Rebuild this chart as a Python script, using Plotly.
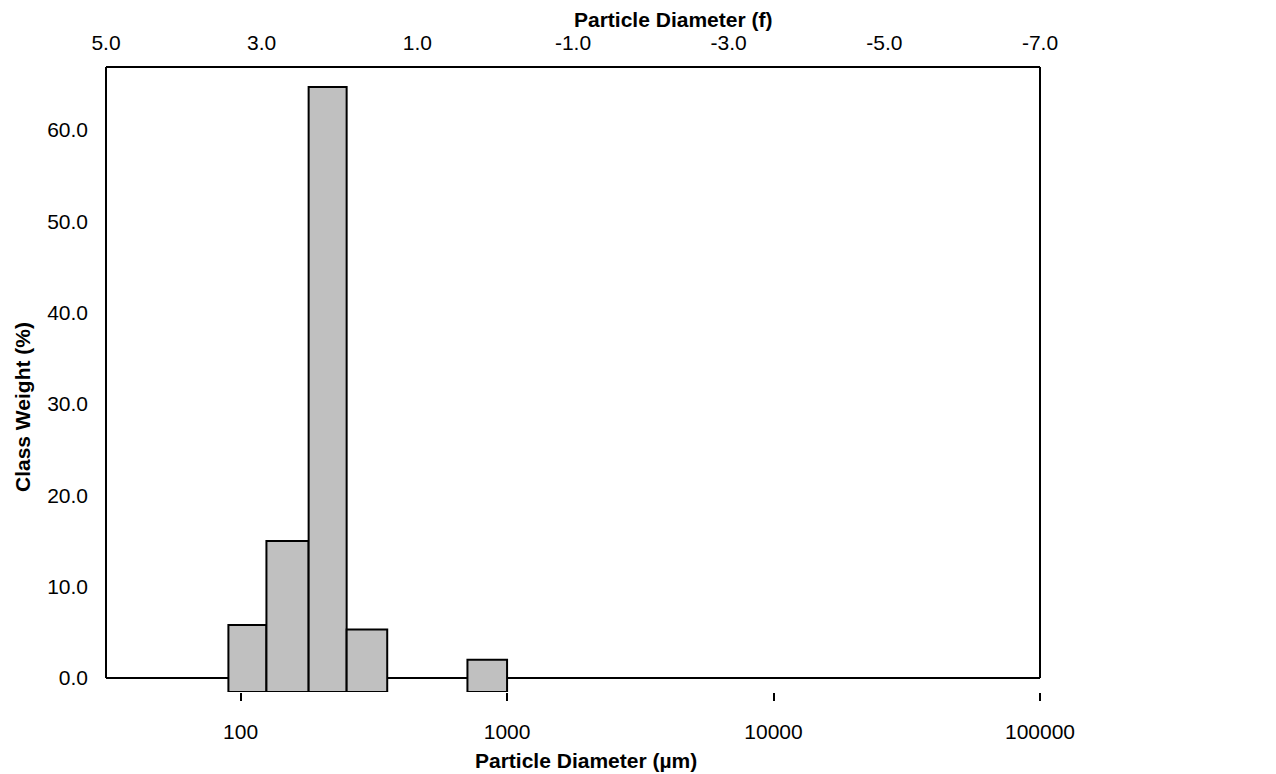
import plotly.graph_objects as go
import math

# Data: size classes (µm) and class weights (%)
bin_lower_um = [90, 125, 180, 250, 710]
bin_upper_um = [125, 180, 250, 355, 1000]
class_weight = [5.8, 15.0, 64.7, 5.3, 2.0]

bottom_ticks = [100, 1000, 10000, 100000]
bottom_ticktext = ["100", "1000", "10000", "100000"]
phi_ticks = [5, 3, 1, -1, -3, -5, -7]
phi_ticktext = ["5.0", "3.0", "1.0", "-1.0", "-3.0", "-5.0", "-7.0"]
y_ticks = [0, 10, 20, 30, 40, 50, 60]
y_ticktext = ["0.0", "10.0", "20.0", "30.0", "40.0", "50.0", "60.0"]

Y_MIN, Y_MAX = -1.53, 66.9
FONT = "Liberation Sans, Arial, sans-serif"

fig = go.Figure()
for lo, hi, h in zip(bin_lower_um, bin_upper_um, class_weight):
    fig.add_trace(go.Scatter(
        x=[lo, lo, hi, hi, lo], y=[Y_MIN, h, h, Y_MIN, Y_MIN],
        mode="lines", fill="toself", fillcolor="#c0c0c0",
        line=dict(color="black", width=2), hoverinfo="skip", showlegend=False,
        xaxis="x", yaxis="y"))

# invisible trace for top axis
fig.add_trace(go.Scatter(x=[5, -7], y=[None, None], xaxis="x2", yaxis="y",
                         mode="markers", showlegend=False, hoverinfo="skip"))

fig.update_layout(
    width=1276, height=774,
    margin=dict(l=106, r=236, t=67, b=82),
    paper_bgcolor="white", plot_bgcolor="white",
    font=dict(family=FONT, size=21, color="black"),
    xaxis=dict(type="log", range=[math.log10(31.25), 5],
               tickvals=bottom_ticks, ticktext=bottom_ticktext,
               ticks="outside", ticklen=8, tickwidth=2, tickcolor="black",
               showline=False, showgrid=False, zeroline=False,
               ticklabelstandoff=13),
    xaxis2=dict(overlaying="x", side="top", anchor="y", range=[5, -7],
                tickvals=phi_ticks, ticktext=phi_ticktext, ticks="",
                showline=False, showgrid=False, zeroline=False,
                ticklabelstandoff=12),
    yaxis=dict(range=[Y_MIN, Y_MAX], tickvals=y_ticks, ticktext=y_ticktext,
               ticks="", showline=False, showgrid=False, zeroline=False,
               ticklabelstandoff=17),
    shapes=[
        dict(type="line", xref="paper", yref="y", x0=0, x1=1, y0=0, y1=0,
             line=dict(color="black", width=2), layer="below"),
        dict(type="line", xref="paper", yref="paper", x0=0, x1=1, y0=1, y1=1,
             line=dict(color="black", width=2)),
        dict(type="line", xref="paper", yref="y", x0=0, x1=0, y0=0, y1=Y_MAX,
             line=dict(color="black", width=2)),
        dict(type="line", xref="paper", yref="y", x0=1, x1=1, y0=0, y1=Y_MAX,
             line=dict(color="black", width=2)),
    ],
    annotations=[
        dict(text="<b>Particle Diameter (µm)</b>", xref="paper", yref="paper",
             x=(586 - 106) / 934, y=-(760 - 692) / 625, showarrow=False,
             font=dict(size=21), xanchor="center", yanchor="middle"),
        dict(text="<b>Particle Diameter (f)</b>", xref="paper", yref="paper",
             x=(673 - 106) / 934, y=1 + (67 - 19) / 625, showarrow=False,
             font=dict(size=21), xanchor="center", yanchor="middle"),
        dict(text="<b>Class Weight (%)</b>", xref="paper", yref="paper",
             x=-(106 - 22) / 934, y=(692 - 407) / 625, showarrow=False,
             textangle=-90, font=dict(size=21), xanchor="center", yanchor="middle"),
    ],
)

fig.write_html("out.html")
